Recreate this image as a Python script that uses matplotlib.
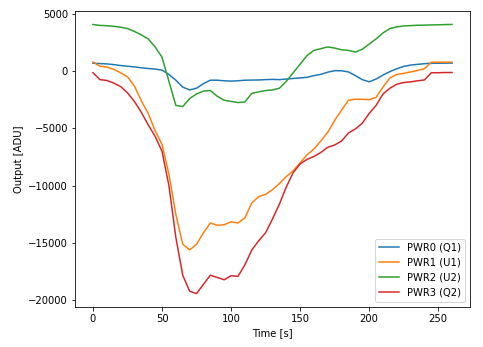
import numpy as np
import matplotlib
matplotlib.use("Agg")
import matplotlib.pyplot as plt

time_s = list(range(0, 261, 5))

pwr0_q1 = [680, 650, 620, 560, 480, 420, 360, 280, 220, 170,
           80, -300, -800, -1400, -1650, -1500, -1100, -800, -800, -850,
           -880, -850, -800, -790, -780, -750, -730, -750, -700, -650,
           -600, -550, -400, -290, -100, 30, 20, -80, -400, -750,
           -940, -700, -350, -50, 200, 400, 520, 580, 640, 680,
           680, 690, 690]

pwr1_u1 = [790, 420, 350, 150, -150, -500, -1300, -2600, -3700, -5200,
           -6400, -9000, -12500, -15100, -15600, -15100, -14100, -13250, -13450, -13400,
           -13150, -13250, -12800, -11500, -10950, -10750, -10350, -9800, -9200, -8700,
           -8000, -7300, -6800, -6100, -5340, -4300, -3400, -2550, -2460, -2460,
           -2500, -2300, -1400, -600, -300, -200, -80, 50, 200, 760,
           770, 770, 770]

pwr2_u2 = [4050, 3980, 3950, 3900, 3820, 3700, 3450, 3150, 2800, 2100,
           1200, -900, -3000, -3100, -2400, -2000, -1750, -1700, -2200, -2550,
           -2650, -2750, -2700, -1950, -1820, -1700, -1650, -1500, -900, -150,
           600, 1350, 1800, 1950, 2100, 2000, 1850, 1800, 1650, 1900,
           2350, 2800, 3320, 3700, 3850, 3930, 3960, 3990, 4000, 4020,
           4030, 4050, 4060]

pwr3_q2 = [-150, -750, -820, -1050, -1350, -1900, -2650, -3600, -4700, -5700,
           -7000, -10000, -14500, -17800, -19200, -19400, -18600, -17800, -18000, -18200,
           -17850, -17900, -16900, -15600, -14800, -14100, -12900, -11600, -10100, -8850,
           -8100, -7700, -7450, -7100, -6650, -6450, -6100, -5400, -5050, -4550,
           -3700, -3000, -2000, -1500, -1150, -1000, -950, -850, -780, -150,
           -150, -130, -130]

series = [("PWR0 (Q1)", pwr0_q1), ("PWR1 (U1)", pwr1_u1),
          ("PWR2 (U2)", pwr2_u2), ("PWR3 (Q2)", pwr3_q2)]

fig = plt.figure(figsize=(483 / 72, 347 / 72), dpi=72)
ax = fig.add_subplot(111)
fig.subplots_adjust(left=0.1553, right=0.9731, bottom=0.1153, top=0.9683)

for label, vals in series:
    ax.plot(time_s, vals, label=label, lw=1.5)

ax.set_xlabel("Time [s]")
ax.set_ylabel("Output [ADU]")
ax.legend(loc="lower right")

fig.savefig("out.png", dpi=72)
